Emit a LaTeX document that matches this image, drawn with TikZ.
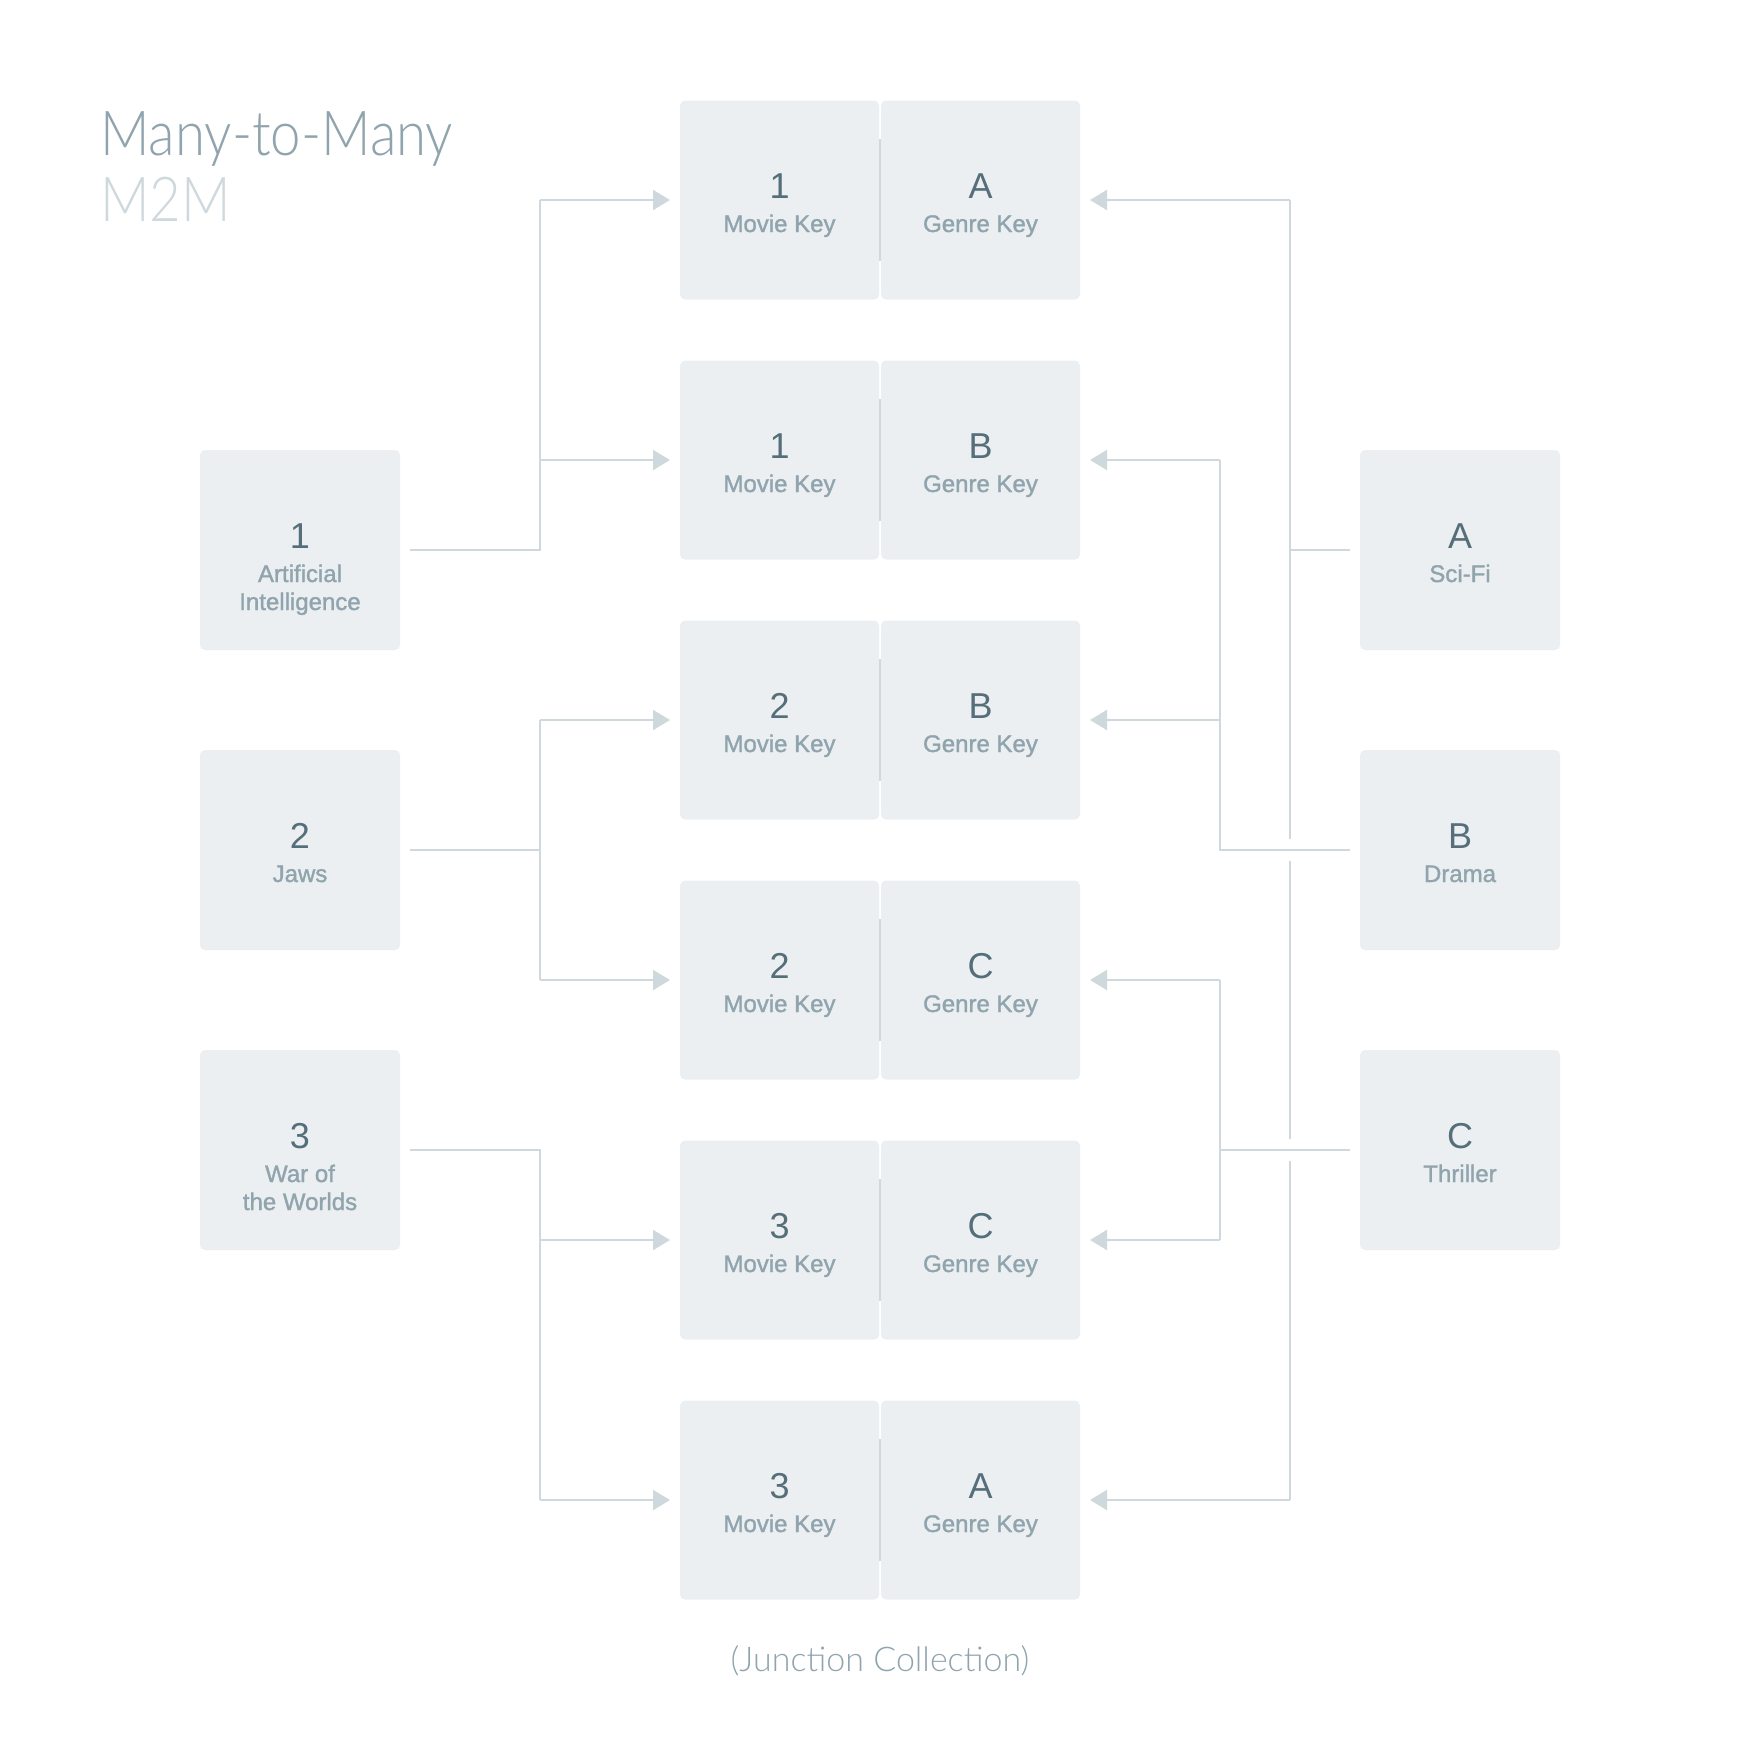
\documentclass[tikz,border=0pt]{standalone}
\usepackage{fontspec}
\setmainfont{Liberation Sans}
\newfontfamily\labfont[FakeBold=1.4]{Liberation Sans}
\IfFontExistsTF{Lato Light}{%
  \newfontfamily\lightfont[FakeStretch=0.88]{Lato Light}%
  \newfontfamily\jcfont{Lato Light}}{%
  \newfontfamily\lightfont[FakeStretch=0.88]{Liberation Sans}%
  \newfontfamily\jcfont{Liberation Sans}}
\usetikzlibrary{arrows.meta}
\definecolor{boxfill}{HTML}{ECEFF1}
\definecolor{linecol}{HTML}{CFD8DC}
\definecolor{numcol}{HTML}{546E7A}
\definecolor{labcol}{HTML}{90A4AE}
\definecolor{subcol}{HTML}{CFD8DC}
\begin{document}
\begin{tikzpicture}[x=1pt,y=-1pt,
 box/.style={fill=boxfill, rounded corners=5pt, minimum width=200pt, minimum height=200pt, inner sep=0pt, outer sep=0pt},
 jbox/.style={box, minimum width=199pt, minimum height=199pt},
 numtxt/.style={text=numcol, font=\fontsize{36}{40}\selectfont, anchor=base, inner sep=0pt},
 labtxt/.style={text=labcol, font=\labfont\fontsize{24}{28}\selectfont, anchor=base, inner sep=0pt},
 conn/.style={draw=linecol, line width=2pt},
 arr/.style={conn, -{Triangle[length=17pt,width=20pt]}},
 divider/.style={draw=linecol, line width=1.5pt}
]
\fill[white] (0,0) rectangle (1760,1740);
\useasboundingbox (0,0) rectangle (1760,1740);

% title
\node[anchor=base west, inner sep=0pt, text=labcol, font=\lightfont\fontsize{62}{66}\selectfont] (title) at (100,155) {Many-to-Many};
\node[anchor=base west, inner sep=0pt, text=subcol, font=\lightfont\fontsize{62}{66}\selectfont] (subtitle) at (100,221) {M2M};

% junction collection
\foreach \i/\mv/\gn [evaluate=\i as \cy using 200+260*\i] in {0/1/A,1/1/B,2/2/B,3/2/C,4/3/C,5/3/A}{
  \node[jbox] (m\i) at (779.5,\cy) {};
  \node[jbox] (g\i) at (980.5,\cy) {};
  \draw[divider] (880,\cy-61) -- (880,\cy+61);
  \node[numtxt] (mn\i) at (779.5,\cy-2) {\mv};
  \node[labtxt] (ml\i) at (779.5,\cy+32) {Movie Key};
  \node[numtxt] (gn\i) at (980.5,\cy-2) {\gn};
  \node[labtxt] (gl\i) at (980.5,\cy+32) {Genre Key};
}
\node[anchor=base, inner sep=0pt, text=labcol, font=\jcfont\fontsize{34}{40}\selectfont] (jc) at (880,1671) {(Junction Collection)};

% movies
\node[box] (l1) at (300,550) {};
\node[box] (l2) at (300,850) {};
\node[box] (l3) at (300,1150) {};
\node[numtxt] at (300,548) {1};
\node[labtxt] at (300,582) {Artificial};
\node[labtxt] at (300,610) {Intelligence};
\node[numtxt] at (300,848) {2};
\node[labtxt] at (300,882) {Jaws};
\node[numtxt] at (300,1148) {3};
\node[labtxt] at (300,1182) {War of};
\node[labtxt] at (300,1210) {the Worlds};

% genres
\node[box] (r1) at (1460,550) {};
\node[box] (r2) at (1460,850) {};
\node[box] (r3) at (1460,1150) {};
\node[numtxt] at (1460,548) {A};
\node[labtxt] at (1460,582) {Sci-Fi};
\node[numtxt] at (1460,848) {B};
\node[labtxt] at (1460,882) {Drama};
\node[numtxt] at (1460,1148) {C};
\node[labtxt] at (1460,1182) {Thriller};

\coordinate (vl) at (540,0);
\coordinate (vb) at (1220,0);
\coordinate (va) at (1290,0);

% left connectors
\draw[conn] ([xshift=10pt]l1.east) -- (vl|-l1.east) -- (vl|-m0.west);
\draw[arr] (vl|-m0.west) -- ([xshift=-10pt]m0.west);
\draw[arr] (vl|-m1.west) -- ([xshift=-10pt]m1.west);

\draw[conn] ([xshift=10pt]l2.east) -- (vl|-l2.east);
\draw[conn] (vl|-m2.west) -- (vl|-m3.west);
\draw[arr] (vl|-m2.west) -- ([xshift=-10pt]m2.west);
\draw[arr] (vl|-m3.west) -- ([xshift=-10pt]m3.west);

\draw[conn] ([xshift=10pt]l3.east) -- (vl|-l3.east) -- (vl|-m5.west);
\draw[arr] (vl|-m4.west) -- ([xshift=-10pt]m4.west);
\draw[arr] (vl|-m5.west) -- ([xshift=-10pt]m5.west);

% right connectors: Sci-Fi (A)
\draw[conn] ([xshift=-10pt]r1.west) -- (va|-r1.west);
\draw[conn] (va|-g0.east) -- ([yshift=11pt]va|-r2.west);
\draw[conn] ([yshift=-11pt]va|-r2.west) -- ([yshift=11pt]va|-r3.west);
\draw[conn] ([yshift=-11pt]va|-r3.west) -- (va|-g5.east);
\draw[arr] (va|-g0.east) -- ([xshift=10pt]g0.east);
\draw[arr] (va|-g5.east) -- ([xshift=10pt]g5.east);

% Drama (B)
\draw[conn] ([xshift=-10pt]r2.west) -- (vb|-r2.west) -- (vb|-g1.east);
\draw[arr] (vb|-g1.east) -- ([xshift=10pt]g1.east);
\draw[arr] (vb|-g2.east) -- ([xshift=10pt]g2.east);

% Thriller (C)
\draw[conn] ([xshift=-10pt]r3.west) -- (vb|-r3.west);
\draw[conn] (vb|-g3.east) -- (vb|-g4.east);
\draw[arr] (vb|-g3.east) -- ([xshift=10pt]g3.east);
\draw[arr] (vb|-g4.east) -- ([xshift=10pt]g4.east);
\end{tikzpicture}
\end{document}
